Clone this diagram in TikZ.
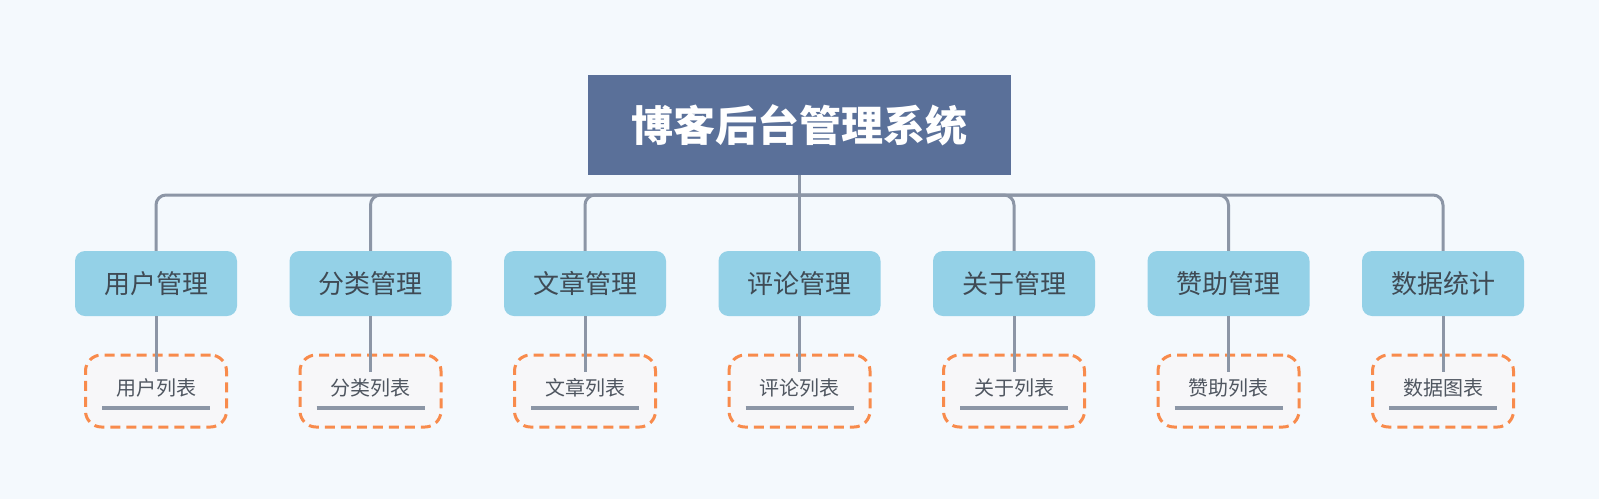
\documentclass[tikz,border=0pt]{standalone}
\usepackage{fontspec}
\setmainfont{Noto Sans CJK SC}
\definecolor{bgc}{HTML}{F4F9FD}
\definecolor{rootc}{HTML}{5A7099}
\definecolor{lvonec}{HTML}{94D1E7}
\definecolor{linec}{HTML}{8C96A6}
\definecolor{orangec}{HTML}{F88B4C}
\definecolor{lvtwoc}{HTML}{F7F7F9}
\definecolor{txtc}{HTML}{3F4A54}
\definecolor{txttwoc}{HTML}{4F5660}
\begin{document}
\begin{tikzpicture}[x=1pt,y=-1pt,
  rootbox/.style={fill=rootc, minimum width=423pt, minimum height=100pt, inner sep=0pt, text=white, font=\fontsize{42}{42}\selectfont\bfseries},
  lvone/.style={fill=lvonec, rounded corners=10pt, minimum width=162pt, minimum height=65pt, inner sep=0pt, text=txtc, font=\fontsize{26}{26}\selectfont},
  lvtwo/.style={draw=orangec, line width=3pt, dash pattern=on 10pt off 6pt, fill=lvtwoc, rounded corners=16pt, minimum width=141pt, minimum height=72pt, inner sep=0pt},
  lvtwotext/.style={text=txttwoc, font=\fontsize{20}{20}\selectfont, inner sep=0pt},
  conn/.style={draw=linec, line width=3pt},
  uline/.style={draw=linec, line width=4.5pt}
]
\fill[bgc] (0,0) rectangle (1599,499);
\useasboundingbox (0,0) rectangle (1599,499);
\node[rootbox] (root) at (799.5,125) {博客后台管理系统};
\coordinate (bus) at (799.5,195);
\draw[conn] (root.south) -- (bus);
\foreach \i/\a/\b in {0/用户管理/用户列表,1/分类管理/分类列表,2/文章管理/文章列表,3/评论管理/评论列表,4/关于管理/关于列表,5/赞助管理/赞助列表,6/数据统计/数据图表}{
  \pgfmathsetmacro{\cx}{156+214.5*\i}
  \node[lvone] (a\i) at (\cx,283.5) {\a};
  \node[lvtwo] (b\i) at (\cx,391) {};
  \node[lvtwotext] (t\i) at (\cx,388) {\b};
  \coordinate (ul\i) at (\cx-54,408);
  \coordinate (ur\i) at (\cx+54,408);
  \coordinate (e\i) at (\cx,372);
  \draw[uline] (ul\i) -- (ur\i);
  \draw[conn] (a\i.south) -- (e\i);
  \draw[conn, rounded corners=10pt] (bus) -| (a\i.north);
}
\end{tikzpicture}
\end{document}
